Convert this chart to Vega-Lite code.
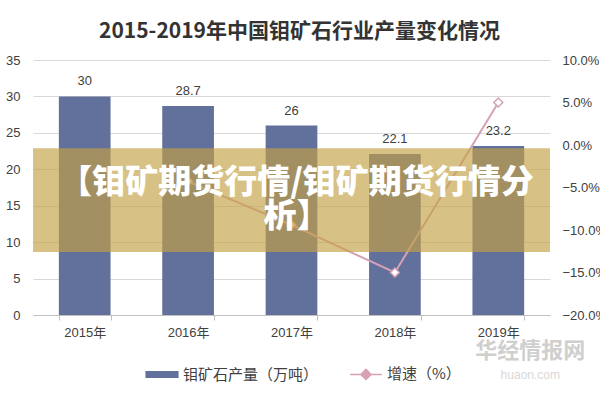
{
  "$schema": "https://vega.github.io/schema/vega-lite/v6.json",
  "width": 517,
  "height": 255,
  "autosize": {"type": "none"},
  "padding": {"left": 33, "top": 60, "right": 50, "bottom": 85},
  "background": "white",
  "config": {"font": "Liberation Sans, Noto Sans CJK SC", "view": {"stroke": null}},
  "title": {"text": "2015-2019年中国钼矿石行业产量变化情况", "fontSize": 21, "font": "Noto Sans CJK SC", "fontWeight": "bold", "color": "#333333", "offset": 12, "dx": 8},
  "datasets": {
    "main": [
      {"year": "2015年", "prod": 30, "growth": null},
      {"year": "2016年", "prod": 28.7, "growth": -0.043},
      {"year": "2017年", "prod": 26, "growth": -0.094},
      {"year": "2018年", "prod": 22.1, "growth": -0.15},
      {"year": "2019年", "prod": 23.2, "growth": 0.05}
    ],
    "banner": [{"y1": 8.65, "y2": 22.9}],
    "bannertext": [
      {"t": "【钼矿期货行情/钼矿期货行情分", "ty": 18.1},
      {"t": "析】", "ty": 13.5}
    ],
    "mark1": [{"year": "2019年", "t": "华经情报网", "ty": -4.9}],
    "mark2": [{"year": "2019年", "t": "huaon.com", "ty": -8.2}]
  },
  "data": {"name": "main"},
  "layer": [
    {
      "mark": {"type": "bar", "color": "#62709C"},
      "encoding": {
        "x": {"field": "year", "type": "nominal", "sort": null, "title": null,
          "scale": {"paddingInner": 0.5, "paddingOuter": 0.25},
          "axis": {"labelAngle": 0, "labelFontSize": 13, "labelColor": "#404040", "labelPadding": 6, "domainColor": "#bfbfbf", "tickColor": "#bfbfbf", "tickBand": "extent", "tickSize": 5, "grid": false}},
        "y": {"field": "prod", "type": "quantitative", "title": null,
          "scale": {"domain": [0, 35], "nice": false},
          "axis": {"orient": "left", "values": [0, 5, 10, 15, 20, 25, 30, 35], "labelFontSize": 13, "labelColor": "#404040", "domain": false, "ticks": false, "labelPadding": 13, "grid": true, "gridColor": "#d9d9d9"}},
        "color": {"datum": "钼矿石产量（万吨）",
          "scale": {"domain": ["钼矿石产量（万吨）", "增速（%）"], "range": ["#62709C", "#D4A2B4"]},
          "legend": {"orient": "none", "legendX": 112, "legendY": 297, "direction": "horizontal", "title": null, "labelFontSize": 15, "labelColor": "#404040", "labelFont": "Noto Sans CJK SC", "symbolSize": 1000, "columnPadding": 28, "labelOffset": 4,
            "encode": {"symbols": {"update": {
              "shape": {"signal": "datum.value === '增速（%）' ? 'M-1,0H-0.32M0.32,0H1M-0.32,0L0,-0.32L0.32,0L0,0.32Z' : 'M-1,-0.18H1V0.18H-1Z'"},
              "fill": {"signal": "datum.value === '增速（%）' ? '#ffffff' : '#62709C'"},
              "stroke": {"signal": "datum.value === '增速（%）' ? '#D4A2B4' : '#62709C'"},
              "strokeWidth": {"value": 1.5}
            }}}}}
      }
    },
    {
      "mark": {"type": "text", "dy": -15, "fontSize": 13, "color": "#404040"},
      "encoding": {
        "x": {"field": "year", "type": "nominal", "sort": null},
        "y": {"field": "prod", "type": "quantitative", "scale": {"domain": [0, 35], "nice": false}, "axis": null},
        "text": {"field": "prod", "type": "quantitative"}
      }
    },
    {
      "mark": {"type": "line", "strokeWidth": 2},
      "encoding": {
        "x": {"field": "year", "type": "nominal", "sort": null},
        "y": {"field": "growth", "type": "quantitative", "title": null,
          "scale": {"domain": [-0.2, 0.1], "nice": false},
          "axis": {"orient": "right", "format": ".1%", "values": [-0.2, -0.15, -0.1, -0.05, 0, 0.05, 0.1], "labelFontSize": 13, "labelColor": "#404040", "domain": false, "ticks": false, "grid": false, "labelPadding": 12}},
        "color": {"datum": "增速（%）"}
      }
    },
    {
      "mark": {"type": "point", "shape": "diamond", "filled": true, "fill": "#ffffff", "stroke": "#D4A2B4", "strokeWidth": 1.5, "size": 80, "opacity": 1},
      "encoding": {
        "x": {"field": "year", "type": "nominal", "sort": null},
        "y": {"field": "growth", "type": "quantitative", "scale": {"domain": [-0.2, 0.1], "nice": false}, "axis": null}
      }
    },
    {
      "data": {"name": "banner"},
      "mark": {"type": "rect", "color": "#C4A145", "opacity": 0.66},
      "encoding": {
        "y": {"field": "y1", "type": "quantitative", "scale": {"domain": [0, 35], "nice": false}, "axis": null},
        "y2": {"field": "y2"}
      }
    },
    {
      "data": {"name": "bannertext"},
      "mark": {"type": "text", "font": "Noto Sans CJK SC", "fontWeight": 900, "fontSize": 33, "color": "#ffffff", "dx": 5},
      "encoding": {
        "y": {"field": "ty", "type": "quantitative", "scale": {"domain": [0, 35], "nice": false}, "axis": null},
        "text": {"field": "t"}
      }
    },
    {
      "data": {"name": "mark1"},
      "mark": {"type": "text", "font": "Noto Sans CJK SC", "fontWeight": "bold", "fontSize": 22, "color": "#cfcfcf", "dx": 32, "clip": false},
      "encoding": {
        "x": {"field": "year", "type": "nominal", "sort": null},
        "y": {"field": "ty", "type": "quantitative", "scale": {"domain": [0, 35], "nice": false}, "axis": null},
        "text": {"field": "t"}
      }
    },
    {
      "data": {"name": "mark2"},
      "mark": {"type": "text", "fontSize": 12, "letterSpacing": 5, "color": "#d8d8d8", "dx": 32, "clip": false},
      "encoding": {
        "x": {"field": "year", "type": "nominal", "sort": null},
        "y": {"field": "ty", "type": "quantitative", "scale": {"domain": [0, 35], "nice": false}, "axis": null},
        "text": {"field": "t"}
      }
    }
  ],
  "resolve": {"scale": {"y": "independent"}}
}
